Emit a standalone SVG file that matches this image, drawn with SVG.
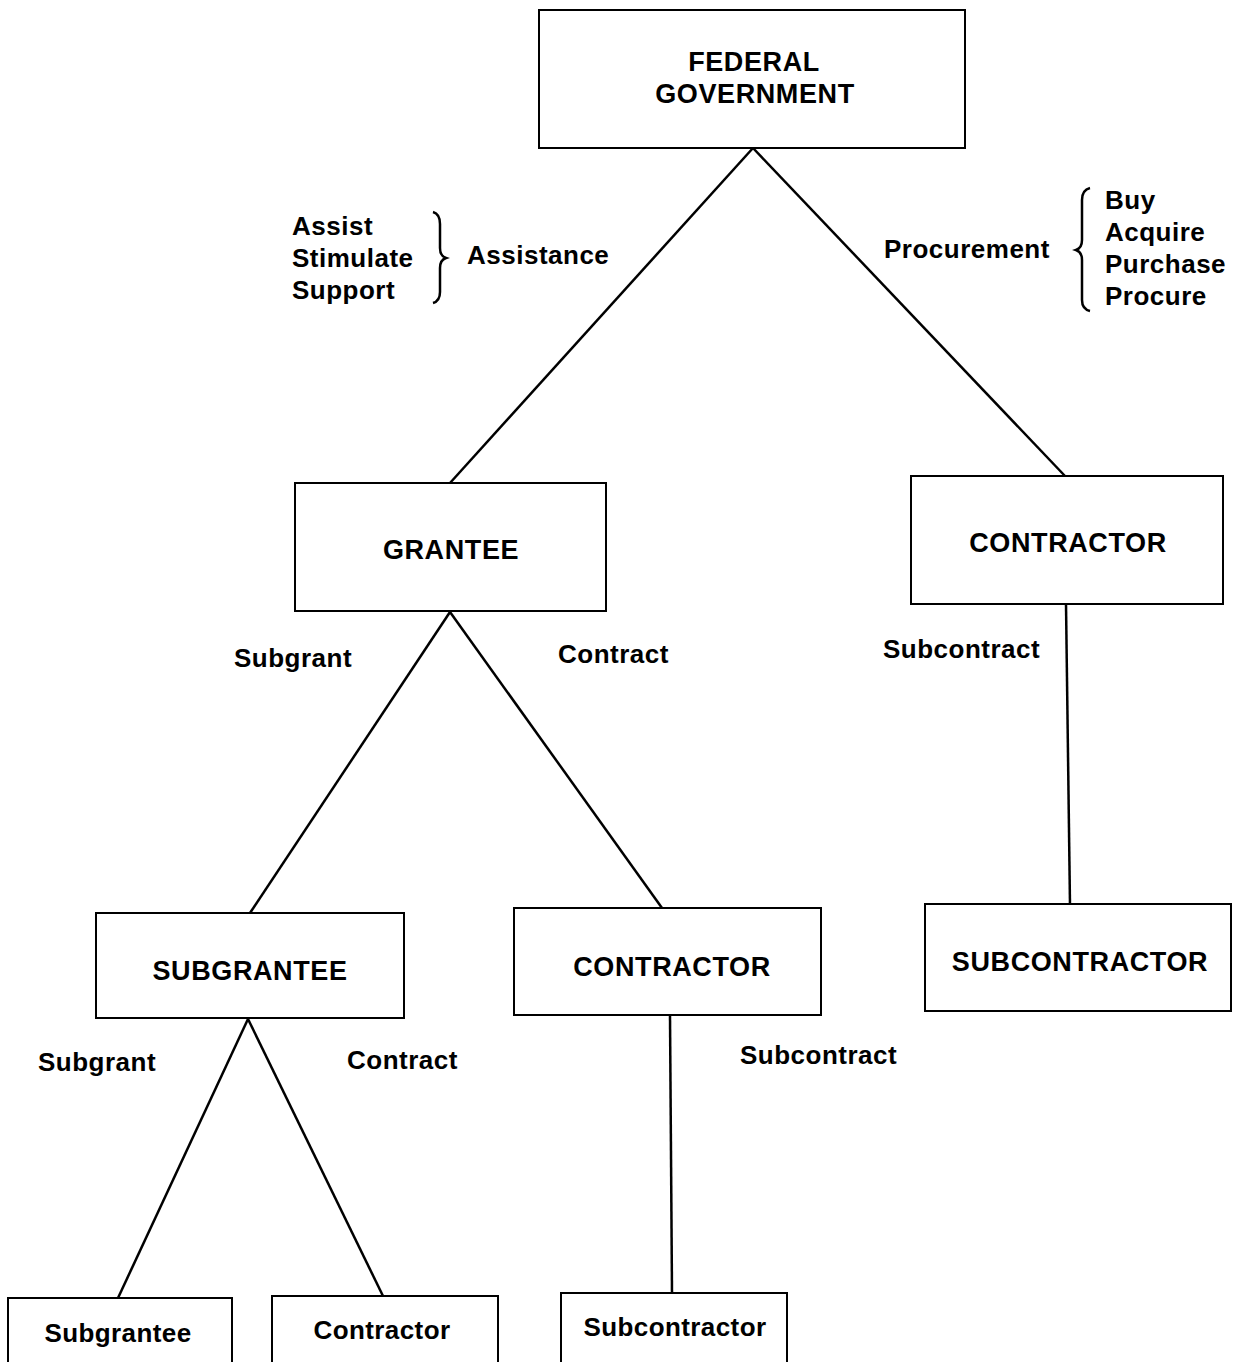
<svg xmlns="http://www.w3.org/2000/svg" width="1238" height="1362" viewBox="0 0 1238 1362">
<style>
.box{fill:#fff;stroke:#000;stroke-width:2}
.t{font-family:"Liberation Sans",Arial,sans-serif;font-weight:bold;fill:#000}
.n{font-size:27px;text-anchor:middle;letter-spacing:0.6px}
.s{font-size:26px;text-anchor:middle;letter-spacing:0.4px}
.l{font-size:26px;letter-spacing:0.5px}
.c line{stroke:#000;stroke-width:2.5}
.br{fill:none;stroke:#000;stroke-width:2.5}
</style>
<rect width="1238" height="1362" fill="#fff"/>
<g class="c" id="connectors">
<line x1="753" y1="148" x2="450" y2="483"/>
<line x1="753" y1="148" x2="1065" y2="476"/>
<line x1="450" y1="612" x2="250" y2="913"/>
<line x1="450" y1="612" x2="662" y2="908"/>
<line x1="1066" y1="604" x2="1070" y2="905"/>
<line x1="248" y1="1019" x2="118" y2="1298"/>
<line x1="248" y1="1019" x2="383" y2="1296"/>
<line x1="670" y1="1016" x2="672" y2="1293"/>
</g>
<g id="federal">
<rect class="box" x="539" y="10" width="426" height="138"/>
<text class="t n" x="754" y="71">FEDERAL</text>
<text class="t n" x="755" y="103">GOVERNMENT</text>
</g>
<g id="grantee">
<rect class="box" x="295" y="483" width="311" height="128"/>
<text class="t n" x="451" y="559">GRANTEE</text>
</g>
<g id="contractor1">
<rect class="box" x="911" y="476" width="312" height="128"/>
<text class="t n" x="1068" y="552">CONTRACTOR</text>
</g>
<g id="subgrantee1">
<rect class="box" x="96" y="913" width="308" height="105"/>
<text class="t n" x="250" y="980">SUBGRANTEE</text>
</g>
<g id="contractor2">
<rect class="box" x="514" y="908" width="307" height="107"/>
<text class="t n" x="672" y="976">CONTRACTOR</text>
</g>
<g id="subcontractor1">
<rect class="box" x="925" y="904" width="306" height="107"/>
<text class="t n" x="1080" y="971">SUBCONTRACTOR</text>
</g>
<g id="subgrantee2">
<rect class="box" x="8" y="1298" width="224" height="70"/>
<text class="t s" x="118" y="1342">Subgrantee</text>
</g>
<g id="contractor3">
<rect class="box" x="272" y="1296" width="226" height="70"/>
<text class="t s" x="382" y="1339">Contractor</text>
</g>
<g id="subcontractor2">
<rect class="box" x="561" y="1293" width="226" height="70"/>
<text class="t s" x="675" y="1336">Subcontractor</text>
</g>
<g id="labels">
<text class="t l" x="292" y="235">Assist</text>
<text class="t l" x="292" y="267">Stimulate</text>
<text class="t l" x="292" y="299">Support</text>
<path class="br" d="M433,212 Q440,214 440,224 L440,248 Q440,256 446,258 Q440,260 440,268 L440,292 Q440,301 433,303"/>
<text class="t l" x="467" y="264">Assistance</text>
<text class="t l" x="884" y="258">Procurement</text>
<path class="br" d="M1090,188 Q1082,190 1082,200 L1082,240 Q1082,248 1076,250 Q1082,252 1082,260 L1082,300 Q1082,309 1090,311"/>
<text class="t l" x="1105" y="209">Buy</text>
<text class="t l" x="1105" y="241">Acquire</text>
<text class="t l" x="1105" y="273">Purchase</text>
<text class="t l" x="1105" y="305">Procure</text>
<text class="t l" x="234" y="667">Subgrant</text>
<text class="t l" x="558" y="663">Contract</text>
<text class="t l" x="883" y="658">Subcontract</text>
<text class="t l" x="38" y="1071">Subgrant</text>
<text class="t l" x="347" y="1069">Contract</text>
<text class="t l" x="740" y="1064">Subcontract</text>
</g>
</svg>
